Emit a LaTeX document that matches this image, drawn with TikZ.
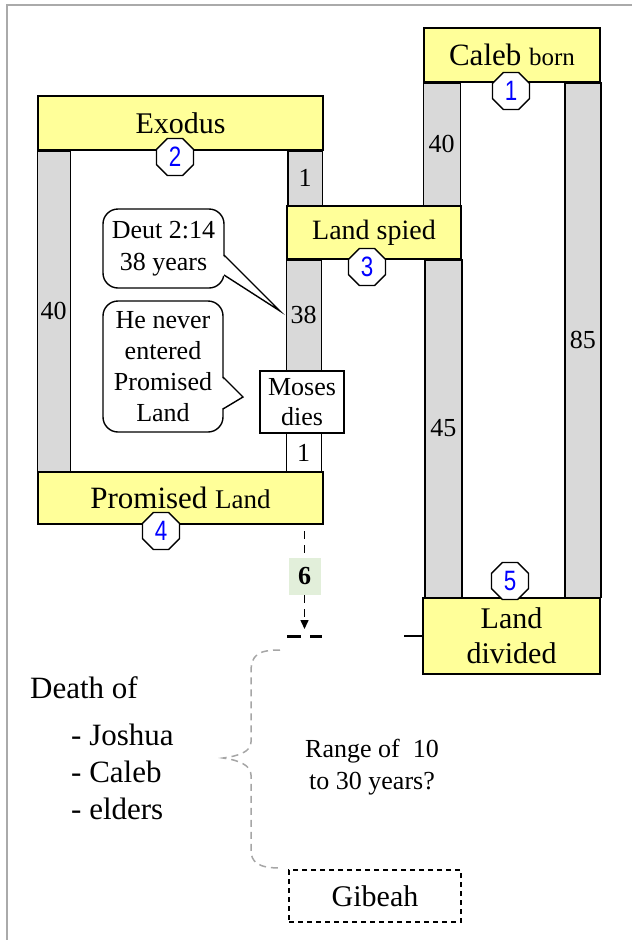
\documentclass[tikz,border=0pt]{standalone}
\usepackage{fontspec}
\setmainfont{Liberation Serif}
\newfontfamily\numfont[FakeStretch=0.8]{Liberation Sans}
\usetikzlibrary{positioning,arrows.meta,calc,shapes.geometric,backgrounds}
\newcommand{\setfs}[2]{\fontsize{#1}{#2}\selectfont}
\definecolor{boxyellow}{HTML}{FFFF99}
\definecolor{pillargray}{HTML}{D9D9D9}
\definecolor{sixgreen}{HTML}{E2EFDA}
\definecolor{framegray}{HTML}{AAAAAA}
\definecolor{bracegray}{HTML}{A6A6A6}
\tikzset{
  x=1pt,y=-1pt,
  evbox/.style={draw,fill=boxyellow,line width=1.6pt,inner sep=0pt,
    align=center,font=\setfs{30}{35}},
  pillar/.style={draw,fill=pillargray,line width=1.4pt},
  pillarw/.style={draw,fill=white,line width=1.4pt},
  pnum/.style={font=\setfs{26}{30},inner sep=0pt},
  octa/.style={regular polygon,regular polygon sides=8,draw,fill=white,
    line width=1.4pt,minimum size=40pt,inner sep=0pt,text=blue,
    font=\numfont\setfs{28}{28}},
  bubble/.style={draw,rounded corners=15pt,line width=1.4pt,fill=white,
    align=center,inner sep=0pt,font=\setfs{26}{32}},
  ptr/.style={line width=1.4pt,line join=miter},
  mosesbox/.style={draw,fill=white,line width=1.4pt,inner sep=0pt,
    align=center,font=\setfs{26}{30}},
  sixbox/.style={fill=sixgreen,minimum width=32pt,minimum height=37pt,
    inner sep=0pt,font=\bfseries\setfs{26}{30}},
  dline/.style={line width=1.5pt,dash pattern=on 8pt off 6pt},
  markdash/.style={line width=3pt,dash pattern=on 14pt off 9pt},
  brc/.style={draw=bracegray,line width=1.5pt,dash pattern=on 7pt off 5pt},
  gbox/.style={draw,line width=1.5pt,dash pattern=on 5pt off 4pt,
    inner sep=0pt,font=\setfs{30}{35}},
  txt/.style={inner sep=0pt,align=left,font=\setfs{31}{37}},
  txtsm/.style={inner sep=0pt,align=center,font=\setfs{26}{32}},
}
\begin{document}
\begin{tikzpicture}
  \useasboundingbox (0,0) rectangle (632,940);
  \draw[framegray,line width=2pt] (7,940) -- (7,5) -- (632,5);

  % event boxes
  \node[evbox,minimum width=176pt,minimum height=54pt,font=\setfs{31}{35}]
    (caleb) at (512,55) {Caleb {\setfs{25}{30}born}};
  \node[evbox,minimum width=285pt,minimum height=54pt] (exodus) at (180.5,123) {Exodus};
  \node[evbox,minimum width=174pt,minimum height=53pt,font=\setfs{28}{32}]
    (spied) at (374,232.5) {Land spied};
  \node[evbox,minimum width=285pt,minimum height=52pt,font=\setfs{31}{35}]
    (promised) at (180.5,498) {Promised {\setfs{27}{30}Land}};
  \node[evbox,minimum width=177pt,minimum height=76pt] (divided) at (511.5,636)
    {Land\\divided};
  \node[mosesbox,minimum width=84pt,minimum height=62pt] (moses) at (302,402)
    {Moses\\dies};

  % pillars
  \coordinate (exL) at ([xshift=33pt]promised.north west);
  \coordinate (exR) at ([xshift=-36pt]exodus.south east);
  \coordinate (spR) at ([xshift=36pt]spied.north west);
  \coordinate (colL) at ([xshift=35pt]spied.south west);
  \coordinate (colR) at ([xshift=-37pt]spied.south east);
  \coordinate (calL) at ([xshift=37pt]caleb.south west);
  \coordinate (calR) at ([xshift=-36pt]caleb.south east);
  \begin{scope}[on background layer]
    \draw[pillar] (exodus.south west) rectangle (exL);
    \node[pnum] at ($(exodus.south west)!.5!(exL)$) {40};
    \draw[pillar] (exR) rectangle (spR);
    \node[pnum] at ($(exR)!.5!(spR)$) {1};
    \draw[pillar] (spied.south west) rectangle (colL |- moses.north);
    \node[pnum] at ($(spied.south west)!.5!(colL |- moses.north)$) {38};
    \draw[pillarw] (spied.south west |- moses.south) rectangle (colL |- promised.north);
    \node[pnum] at ($(spied.south west |- moses.south)!.5!(colL |- promised.north)$) {1};
    \draw[pillar] (colR) rectangle (spied.south east |- divided.north);
    \node[pnum] at ($(colR)!.5!(spied.south east |- divided.north)$) {45};
    \draw[pillar] (caleb.south west) rectangle (calL |- spied.north);
    \node[pnum] at ($(caleb.south west)!.5!(calL |- spied.north)$) {40};
    \draw[pillar] (calR) rectangle (caleb.south east |- divided.north);
    \node[pnum] at ($(calR)!.5!(caleb.south east |- divided.north)$) {85};
  \end{scope}

  % numbered octagons
  \node[octa] (o1) at (511,91) {1};
  \node[octa] (o2) at (175,157) {2};
  \node[octa] (o3) at (367,267) {3};
  \node[octa] (o4) at (161,531) {4};
  \node[octa] (o5) at (510,581) {5};

  % speech bubbles
  \node[bubble,minimum width=121pt,minimum height=79pt] (deut) at (163.5,248.5)
    {Deut 2:14\\38 years};
  \coordinate (dp1) at (224,255);
  \coordinate (dp2) at (224,275);
  \coordinate (dtip) at (280,311);
  \fill[white] ([xshift=-2pt]dp1) -- (dtip) -- ([xshift=-2pt]dp2) -- cycle;
  \draw[ptr] (dp1) -- (dtip) -- (dp2);

  \node[bubble,minimum width=120pt,minimum height=131pt,font=\setfs{26}{31}]
    (never) at (163,366.5) {He never\\entered\\Promised\\Land};
  \coordinate (np1) at (223,377);
  \coordinate (np2) at (223,409);
  \coordinate (ntip) at (243,397);
  \fill[white] ([xshift=-2pt]np1) -- (ntip) -- ([xshift=-2pt]np2) -- cycle;
  \draw[ptr] (np1) -- (ntip) -- (np2);

  % period 6
  \coordinate (top6) at (304.5,531);
  \node[sixbox] (six) at (304.5,576.5) {6};
  \coordinate (end6) at (304.5,629);
  \draw[dline] (top6) -- (six);
  \draw[dline,-{Triangle[length=9pt,width=8pt]}] (six) -- (end6);
  \coordinate (mk) at (304.5,636);
  \draw[markdash] ([xshift=-17.5pt]mk) -- ([xshift=17.5pt]mk);
  \coordinate (tick) at (404,636);
  \draw[line width=1.5pt] (tick) -- (divided.west |- tick);

  % brace
  \draw[brc] (280,650) .. controls (258,650) and (251,655) .. (251,672)
    -- (251,742) .. controls (251,752) and (238,756) .. (223,758)
    .. controls (238,760) and (251,765) .. (251,775)
    -- (251,850) .. controls (251,862) and (258,868) .. (280,868);

  \node[txt,anchor=west] (death) at (30,688) {Death of};
  \node[txt,anchor=west] (list) at (71,772) {- Joshua\\- Caleb\\- elders};
  \node[txtsm] (range) at (372,767) {Range of\ \ 10\\to 30 years?};
  \node[gbox,minimum width=172pt,minimum height=52pt] (gibeah) at (375,896) {Gibeah};
\end{tikzpicture}
\end{document}
